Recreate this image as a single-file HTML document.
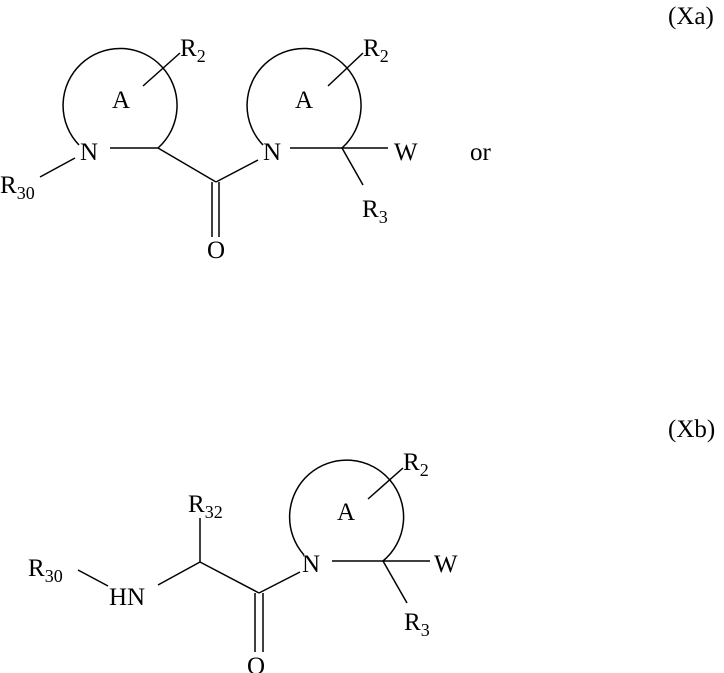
<!DOCTYPE html>
<html><head><style>body{margin:0;background:#fff}svg{display:block}text{font-family:"Liberation Serif",serif;font-size:25px;fill:#000}.s{font-size:18px}</style></head><body>
<svg width="724" height="673" viewBox="0 0 724 673" xmlns="http://www.w3.org/2000/svg">
<g stroke="#000" stroke-width="1.5" fill="none">
<path d="M79,145 A57,57 0 1 1 158,148"/>
<line x1="143" y1="86" x2="180" y2="53"/>
<line x1="110" y1="148" x2="158" y2="148"/>
<line x1="158" y1="148" x2="216" y2="182"/>
<line x1="216" y1="182" x2="258" y2="160"/>
<line x1="212" y1="182" x2="212" y2="237"/>
<line x1="219" y1="182" x2="219" y2="237"/>
<line x1="40" y1="177" x2="75" y2="158"/>
<path d="M263,145 A57,57 0 1 1 342,148"/>
<line x1="328" y1="86" x2="363" y2="53"/>
<line x1="290" y1="148" x2="388" y2="148"/>
<line x1="342" y1="148" x2="363" y2="185"/>
<path d="M304,555 A57,57 0 1 1 383,561"/>
<line x1="368" y1="499" x2="403" y2="468"/>
<line x1="332" y1="561" x2="430" y2="561"/>
<line x1="383" y1="561" x2="407" y2="603"/>
<line x1="300" y1="572" x2="259" y2="593"/>
<line x1="259" y1="593" x2="200" y2="562"/>
<line x1="200" y1="562" x2="158" y2="585"/>
<line x1="200" y1="562" x2="200" y2="518"/>
<line x1="78" y1="570" x2="108" y2="586"/>
<line x1="255" y1="593" x2="255" y2="652"/>
<line x1="263" y1="593" x2="263" y2="652"/>
</g>
<text x="668" y="24">(Xa)</text>
<text x="668" y="437">(Xb)</text>
<text x="180" y="56">R<tspan class="s" dy="6">2</tspan></text>
<text x="112" y="108">A</text>
<text x="80" y="160">N</text>
<text x="0" y="193">R<tspan class="s" dy="6">30</tspan></text>
<text x="207" y="258">O</text>
<text x="363" y="56">R<tspan class="s" dy="6">2</tspan></text>
<text x="295" y="108">A</text>
<text x="263" y="160">N</text>
<text x="394" y="160">W</text>
<text x="362" y="217">R<tspan class="s" dy="6">3</tspan></text>
<text x="470" y="160">or</text>
<text x="403" y="470">R<tspan class="s" dy="6">2</tspan></text>
<text x="337" y="520">A</text>
<text x="302" y="572">N</text>
<text x="434" y="572">W</text>
<text x="404" y="630">R<tspan class="s" dy="6">3</tspan></text>
<text x="188" y="512">R<tspan class="s" dy="6">32</tspan></text>
<text x="109" y="605">HN</text>
<text x="28" y="576">R<tspan class="s" dy="6">30</tspan></text>
<text x="247" y="674">O</text>
</svg>
</body></html>
